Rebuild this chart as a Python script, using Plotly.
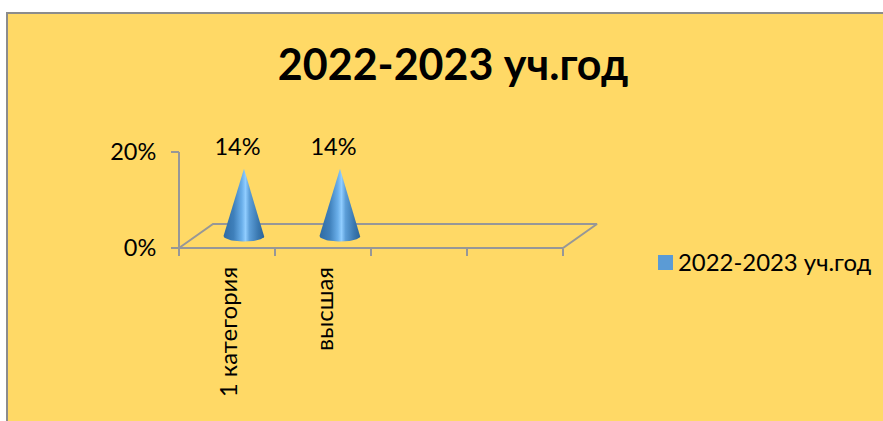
import numpy as np
import plotly.graph_objects as go

categories = ["1 категория", "высшая", " ", "  "]
values = [14, 14, None, None]
value_labels = ["14%", "14%"]
series_name = "2022-2023 уч.год"
y_ticks = [0, 20]
y_tick_labels = ["0%", "20%"]

BG = "#FFD966"
AXIS = "#979797"
FONT = "Lato, Carlito, 'Noto Sans', sans-serif"
SIZE = 23.5

# pixel frame of the chart's axes (front face of the 3-D box)
AX_L, AX_T, AX_R, AX_B = 179, 152, 563, 248
W, H = 883, 421
UX = (AX_R - AX_L) / 4          # px per category
UY = (AX_B - AX_T) / 20         # px per percent

# plot area is larger than the front face so that the floor is not clipped
L, R, T, B = 165, 610, 120, 262
x0_range = -0.5 - (AX_L - L) / UX
x1_range = -0.5 + (R - AX_L) / UX
y0_range = -(B - AX_B) / UY
y1_range = (AX_B - T) / UY

# oblique projection of the 3-D floor, in axis units
DX = 34 / UX
DY = 24 / UY

fig = go.Figure()

# floor
fx = [-0.5, -0.5 + DX, 3.5 + DX, 3.5, -0.5]
fy = [0, DY, DY, 0, 0]
fig.add_trace(go.Scatter(x=fx, y=fy, mode="lines", line=dict(color=AXIS, width=2),
                         showlegend=False, hoverinfo="skip"))
# value axis line
fig.add_trace(go.Scatter(x=[-0.5, -0.5], y=y_ticks, mode="lines", line=dict(color=AXIS, width=2),
                         showlegend=False, hoverinfo="skip"))

# cones
RX, RY = 20.5 / UX, 5.5 / UY
gradient = [[0, "#2F6BA3"], [0.25, "#3F80BB"], [0.45, "#6AAFEA"], [0.54, "#90CDFF"],
            [0.64, "#5C9ED8"], [0.85, "#3A78B0"], [1, "#2C6498"]]
for i, v in enumerate(values):
    if v is None:
        continue
    cx, cy = i + DX / 2, DY / 2
    t = np.linspace(0, np.pi, 41)
    xs = np.r_[cx, cx + RX * np.cos(t), cx]
    ys = np.r_[cy + v, cy - RY * np.sin(t), cy + v]
    fig.add_trace(go.Scatter(
        x=xs, y=ys, mode="lines", line=dict(width=0), fill="toself",
        fillgradient=dict(type="horizontal", colorscale=gradient),
        showlegend=False, hoverinfo="skip"))

# data labels
lab_x = [i + DX / 2 - 6.5 / UX for i, v in enumerate(values) if v is not None]
lab_y = [v + DY / 2 + 1.75 for v in values if v is not None]
fig.add_trace(go.Scatter(x=lab_x, y=lab_y, mode="text", text=value_labels,
                         textposition="top center", textfont=dict(size=SIZE, color="#000", family=FONT),
                         showlegend=False, hoverinfo="skip"))

# legend entry (its swatch is drawn as a shape so it can sit close to the text)
fig.add_trace(go.Scatter(x=[None], y=[None], mode="markers", name=series_name,
                         marker=dict(symbol="square", size=15, color="rgba(0,0,0,0)", line=dict(width=0))))

px = lambda x: (x - L) / (R - L)
py = lambda y: (B - y) / (B - T)

fig.update_layout(
    width=W, height=H, paper_bgcolor="white", plot_bgcolor="rgba(0,0,0,0)",
    margin=dict(l=L, r=W - R, t=T, b=H - B, autoexpand=False),
    title=dict(text="<b>" + series_name + "</b>", x=453 / W, xanchor="center", y=1 - 65 / H, yanchor="middle",
               font=dict(size=43, color="#000", family=FONT)),
    font=dict(family=FONT, color="#000", size=SIZE),
    showlegend=True,
    legend=dict(x=px(638), y=py(262), xanchor="left", yanchor="middle", bgcolor="rgba(0,0,0,0)",
                font=dict(size=23.9, family=FONT, color="#000")),
    shapes=[
        dict(type="rect", xref="paper", yref="paper", x0=px(7), x1=px(890), y0=py(13), y1=py(430),
             fillcolor=BG, line=dict(color="#8C8C8C", width=2), layer="below"),
        dict(type="rect", xref="paper", yref="paper", x0=px(658), x1=px(673), y0=py(255), y1=py(270),
             fillcolor="#5B9BD5", line=dict(width=0)),
    ],
    xaxis=dict(range=[x0_range, x1_range], anchor="free", position=py(AX_B),
               tickmode="array", tickvals=[i + 2 / UX for i in range(4)], ticktext=categories,
               tickangle=-90, ticks="", showgrid=False, zeroline=False, showline=False,
               ticklabelstandoff=13, tickfont=dict(size=24, family=FONT, color="#000"),
               minor=dict(tickmode="array", tickvals=[-0.5, 0.5, 1.5, 2.5, 3.5], ticks="outside",
                          ticklen=7, tickwidth=1.5, tickcolor=AXIS, showgrid=False)),
    yaxis=dict(range=[y0_range, y1_range], anchor="free", position=px(AX_L),
               tickmode="array", tickvals=y_ticks, ticktext=y_tick_labels,
               ticks="outside", ticklen=8, tickwidth=2, tickcolor=AXIS, showgrid=False, zeroline=False,
               showline=False, ticklabelstandoff=10, tickfont=dict(size=SIZE, family=FONT, color="#000")),
)

fig.write_html("out.html", config={"displayModeBar": False}, post_script="document.body.style.margin='0';")
